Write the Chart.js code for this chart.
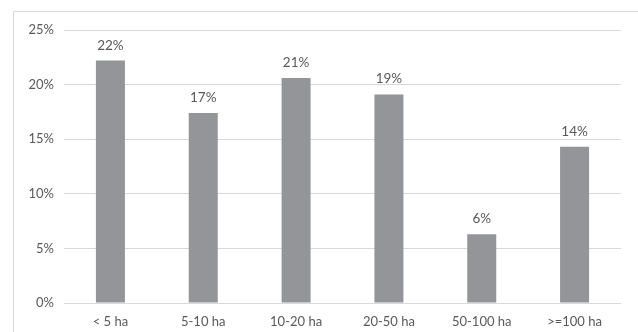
<!DOCTYPE html>
<html>
<head>
<meta charset="utf-8">
<script src="https://cdn.jsdelivr.net/npm/chart.js@4/dist/chart.umd.min.js"></script>
<style>
  html, body { margin: 0; padding: 0; background: #ffffff; overflow: hidden; }
  #wrap { position: relative; width: 638px; height: 332px; }
  #frame { position: absolute; left: 13px; top: 11px; width: 700px; height: 400px;
           border: 1px solid #d9d9d9; box-sizing: border-box; }
  #chart { position: absolute; left: 0; top: 0; }
</style>
</head>
<body>
<div id="wrap">
  <div id="frame"></div>
  <canvas id="chart" width="638" height="332"></canvas>
</div>
<script>
// Farm size classes and their share (%)
const categories = ['< 5 ha', '5-10 ha', '10-20 ha', '20-50 ha', '50-100 ha', '>=100 ha'];
const shares = [22.2, 17.4, 20.6, 19.1, 6.3, 14.3];
const yTicks = [0, 5, 10, 15, 20, 25];

const textColor = '#595959';
const fontFamily = 'Lato, "Open Sans", sans-serif';

// Percentage labels above each bar
const valueLabels = {
  id: 'valueLabels',
  afterDatasetsDraw(chart) {
    const ctx = chart.ctx;
    const meta = chart.getDatasetMeta(0);
    ctx.save();
    ctx.fillStyle = textColor;
    ctx.font = '13.5px ' + fontFamily;
    ctx.textAlign = 'center';
    ctx.textBaseline = 'alphabetic';
    meta.data.forEach((bar, i) => {
      ctx.fillText(Math.round(shares[i]) + '%', bar.x, bar.y - 11);
    });
    ctx.restore();
  }
};

new Chart(document.getElementById('chart'), {
  type: 'bar',
  data: {
    labels: categories,
    datasets: [{
      data: shares,
      backgroundColor: '#939598',
      borderWidth: 0,
      barPercentage: 0.625,
      categoryPercentage: 0.5
    }]
  },
  options: {
    responsive: false,
    animation: false,
    devicePixelRatio: 1,
    layout: { padding: { top: 30, right: 17, left: 0, bottom: 0 } },
    plugins: { legend: { display: false }, tooltip: { enabled: false } },
    scales: {
      x: {
        grid: { display: false },
        border: { display: false },
        ticks: { color: textColor, font: { family: fontFamily, size: 13 }, padding: 3, maxRotation: 0 },
        afterFit(scale) { scale.height = 29; }
      },
      y: {
        min: 0,
        max: 25,
        afterBuildTicks(scale) { scale.ticks = yTicks.map(v => ({ value: v })); },
        grid: { color: '#d9d9d9', lineWidth: 1, drawTicks: false },
        border: { display: false },
        ticks: {
          color: textColor,
          font: { family: fontFamily, size: 13 },
          padding: 10,
          callback: v => v + '%'
        },
        afterFit(scale) { scale.width = 64; }
      }
    }
  },
  plugins: [valueLabels]
});
</script>
</body>
</html>
